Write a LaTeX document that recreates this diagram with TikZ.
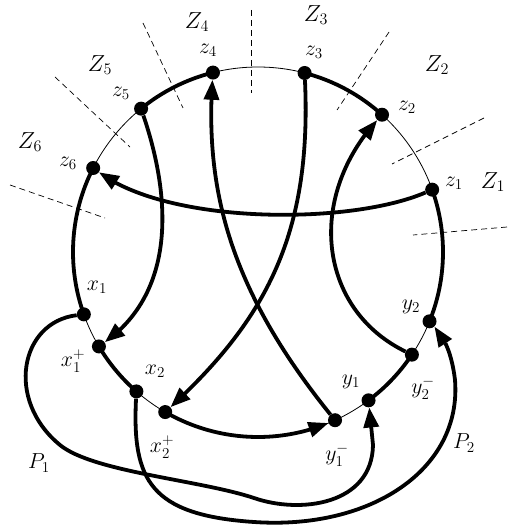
\documentclass[tikz,border=0pt]{standalone}
\usepackage{fix-cm}
\usetikzlibrary{arrows.meta,bending}
\begin{document}
\begin{tikzpicture}[x=1pt,y=-1pt,
  dot/.style={circle,fill=black,inner sep=0pt,minimum size=14pt},
  thinline/.style={line width=0.8pt},
  thickline/.style={line width=3.8pt},
  arr/.style={-{Triangle[length=20pt,width=15pt]}},
  sep/.style={line width=0.7pt,dash pattern=on 6pt off 4pt},
  lbl/.style={font=\huge, inner sep=0pt, scale=1.05},
  bigl/.style={font=\huge, inner sep=0pt, scale=1.12}]
\useasboundingbox (0,0) rectangle (508,529);
\coordinate (C) at (258,252);
\def\R{185}
% circle
\draw[thinline] (C) circle (\R);
% thick arcs
\draw[thickline] ([shift={(C)}]-129.2:\R) arc (-129.2:-104.1:\R);
\draw[thickline] ([shift={(C)}]-75.4:\R) arc (-75.4:-47.9:\R);
\draw[thickline] ([shift={(C)}]-19.7:\R) arc (-19.7:22:\R);
\draw[thickline] ([shift={(C)}]33.7:\R) arc (33.7:53.3:\R);
\draw[thickline] ([shift={(C)}]131.1:\R) arc (131.1:149.3:\R);
\draw[thickline] ([shift={(C)}]160.3:\R) arc (160.3:207:\R);
\draw[thickline,arr] ([shift={(C)}]120.1:\R) arc (120.1:67.6:\R);
% dots
\node[dot] (z4) at ([shift={(C)}]-104.1:\R) {};
\node[dot] (z3) at ([shift={(C)}]-75.4:\R) {};
\node[dot] (z2) at ([shift={(C)}]-47.9:\R) {};
\node[dot] (z1) at ([shift={(C)}]-19.7:\R) {};
\node[dot] (y2) at ([shift={(C)}]22:\R) {};
\node[dot] (y2m) at ([shift={(C)}]33.7:\R) {};
\node[dot] (y1) at ([shift={(C)}]53.3:\R) {};
\node[dot] (y1m) at ([shift={(C)}]65.4:\R) {};
\node[dot] (x2p) at ([shift={(C)}]120.1:\R) {};
\node[dot] (x2) at ([shift={(C)}]131.1:\R) {};
\node[dot] (x1p) at ([shift={(C)}]149.3:\R) {};
\node[dot] (x1) at ([shift={(C)}]160.3:\R) {};
\node[dot] (z6) at ([shift={(C)}]207:\R) {};
\node[dot] (z5) at ([shift={(C)}]-129.2:\R) {};
% chords
\draw[thickline,arr] (z1) .. controls (350,225) and (170,225) .. (z6);
\draw[thickline,arr] (z5) .. controls (172,200) and (175,292) .. (x1p);
\draw[thickline,arr] (y1m) .. controls (230,290) and (205,190) .. (z4);
\draw[thickline,arr] (z3) .. controls (312,235) and (265,320) .. (x2p);
\draw[thickline,arr] (y2m) .. controls (320,310) and (305,200) .. (z2);
% paths P1, P2
\draw[thickline,arr] (x1) .. controls (20,322) and (5,400) .. (60,445)
  .. controls (93,472) and (200,480) .. (254,498)
  .. controls (300,514) and (372,505) .. (373,445) -- (y1);
\draw[thickline,arr] (x2) .. controls (132,480) and (150,515) .. (254,522)
  .. controls (370,530) and (462,470) .. (455,380)
  .. controls (452,355) and (445,338) .. (y2);
% separators
\draw[sep] (251,10) -- (251,93);
\draw[sep] (143,23) -- (183,108);
\draw[sep] (55,77) -- (130,147);
\draw[sep] (10,185) -- (105,218);
\draw[sep] (389,32) -- (337,110);
\draw[sep] (484,118) -- (392,164);
\draw[sep] (507,227) -- (413,235);
% labels
\node[bigl] (lZ4) at (197,22) {$Z_4$};
\node[bigl] (lZ5) at (100,65) {$Z_5$};
\node[bigl] (lZ6) at (30,142) {$Z_6$};
\node[bigl] (lZ3) at (316,15) {$Z_3$};
\node[bigl] (lZ2) at (437,65) {$Z_2$};
\node[bigl] (lZ1) at (493,182) {$Z_1$};
\node[lbl] (lz4) at (208,50) {$z_4$};
\node[lbl] (lz5) at (121,93) {$z_5$};
\node[lbl] (lz6) at (68,163) {$z_6$};
\node[lbl] (lz3) at (314,52) {$z_3$};
\node[lbl] (lz2) at (407,107) {$z_2$};
\node[lbl] (lz1) at (454,183) {$z_1$};
\node[lbl] (lx1) at (97,287) {$x_1$};
\node[lbl] (lx1p) at (73,361) {$x_1^+$};
\node[lbl] (lx2) at (155,371) {$x_2$};
\node[lbl] (lx2p) at (162,447) {$x_2^+$};
\node[lbl] (lP1) at (39,463) {$P_1$};
\node[lbl] (ly2) at (411,307) {$y_2$};
\node[lbl] (ly2m) at (423,388) {$y_2^-$};
\node[lbl] (ly1) at (351,382) {$y_1$};
\node[lbl] (ly1m) at (337,455) {$y_1^-$};
\node[lbl] (lP2) at (464,443) {$P_2$};
\end{tikzpicture}
\end{document}
